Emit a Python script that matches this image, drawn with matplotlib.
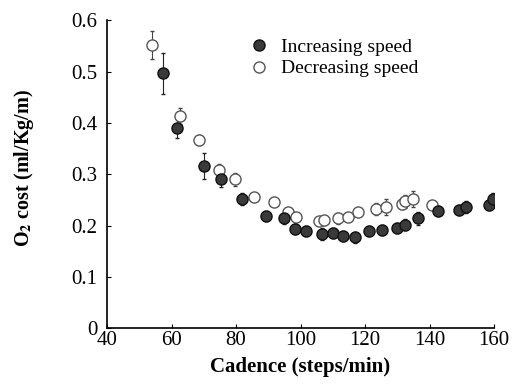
import matplotlib
matplotlib.use("Agg")
import matplotlib.pyplot as plt

plt.rcParams['font.family'] = ['Liberation Serif', 'DejaVu Serif']
plt.rcParams['mathtext.fontset'] = 'stix'

# Increasing speed
inc_x = [57.5, 61.6, 70.1, 75.3, 81.8, 89.3, 95.0, 98.3, 101.7, 106.6, 110.2,
         113.3, 116.9, 121.2, 125.2, 130.0, 132.4, 136.5, 142.5, 149.2, 151.2,
         158.5, 159.8]
inc_y = [0.497, 0.391, 0.316, 0.291, 0.252, 0.219, 0.214, 0.194, 0.190, 0.183,
         0.185, 0.180, 0.177, 0.190, 0.191, 0.195, 0.202, 0.214, 0.228, 0.230,
         0.236, 0.240, 0.251]
inc_err = [0.04, 0.02, 0.025, 0.015, 0.012, 0.01, 0.01, 0.01, 0.01, 0.012,
           0.01, 0.01, 0.01, 0.01, 0.01, 0.01, 0.01, 0.012, 0.01, 0.01,
           0.012, 0.01, 0.012]

# Decreasing speed
dec_x = [54.0, 62.6, 68.6, 74.6, 79.8, 85.6, 91.8, 96.0, 98.6, 105.8, 107.4,
         111.5, 114.8, 117.9, 123.4, 126.5, 131.4, 132.4, 135.0, 140.9]
dec_y = [0.552, 0.414, 0.367, 0.308, 0.290, 0.256, 0.246, 0.227, 0.217, 0.209,
         0.210, 0.214, 0.217, 0.227, 0.232, 0.236, 0.243, 0.247, 0.252, 0.240]
dec_err = [0.028, 0.015, 0.01, 0.012, 0.012, 0.008, 0.008, 0.008, 0.008, 0.008,
           0.008, 0.01, 0.008, 0.008, 0.012, 0.015, 0.01, 0.012, 0.015, 0.008]

x_ticks = [40, 60, 80, 100, 120, 140, 160]
y_ticks = [0, 0.1, 0.2, 0.3, 0.4, 0.5, 0.6]
y_tick_labels = ['0', '0.1', '0.2', '0.3', '0.4', '0.5', '0.6']

fig = plt.figure(figsize=(5.18, 3.85), dpi=100)
ax = fig.add_axes([0.2066, 0.1475, 0.7471, 0.7995])

ax.errorbar(dec_x, dec_y, yerr=dec_err, fmt='none', ecolor='#444444',
            elinewidth=0.8, capsize=1.5, linestyle=':', zorder=2)
ax.errorbar(inc_x, inc_y, yerr=inc_err, fmt='none', ecolor='#222222',
            elinewidth=0.8, capsize=1.5, zorder=2)
ax.plot(dec_x, dec_y, 'o', ms=8, mfc='white', mec='#555555', mew=1.0,
        linestyle='none', label='Decreasing speed', zorder=3)
ax.plot(inc_x, inc_y, 'o', ms=8, mfc='#3a3a3a', mec='#111111', mew=1.0,
        linestyle='none', label='Increasing speed', zorder=4)

ax.set_xlim(40, 160)
ax.set_ylim(0, 0.6)
ax.set_xticks(x_ticks)
ax.set_yticks(y_ticks)
ax.set_yticklabels(y_tick_labels)
ax.tick_params(direction='in', length=3, width=0.8, labelsize=15)
ax.tick_params(axis='x', pad=2)
ax.tick_params(axis='y', pad=7)
for s in ['top', 'right']:
    ax.spines[s].set_visible(False)
for s in ['left', 'bottom']:
    ax.spines[s].set_linewidth(1.2)

ax.set_xlabel('Cadence (steps/min)', fontsize=15, fontweight='bold', labelpad=5)
ax.set_ylabel(r'O$_{\mathbf{2}}$ cost (ml/Kg/m)', fontsize=14.5, fontweight='bold')
ax.yaxis.set_label_coords(-0.183, 0.52)

h, l = ax.get_legend_handles_labels()
ax.legend([h[1], h[0]], [l[1], l[0]], loc='upper left', bbox_to_anchor=(0.348, 0.967),
          frameon=False, fontsize=14, handletextpad=0.6, labelspacing=0.2,
          handlelength=1.0, borderaxespad=0)

fig.savefig('out.png', dpi=100)
